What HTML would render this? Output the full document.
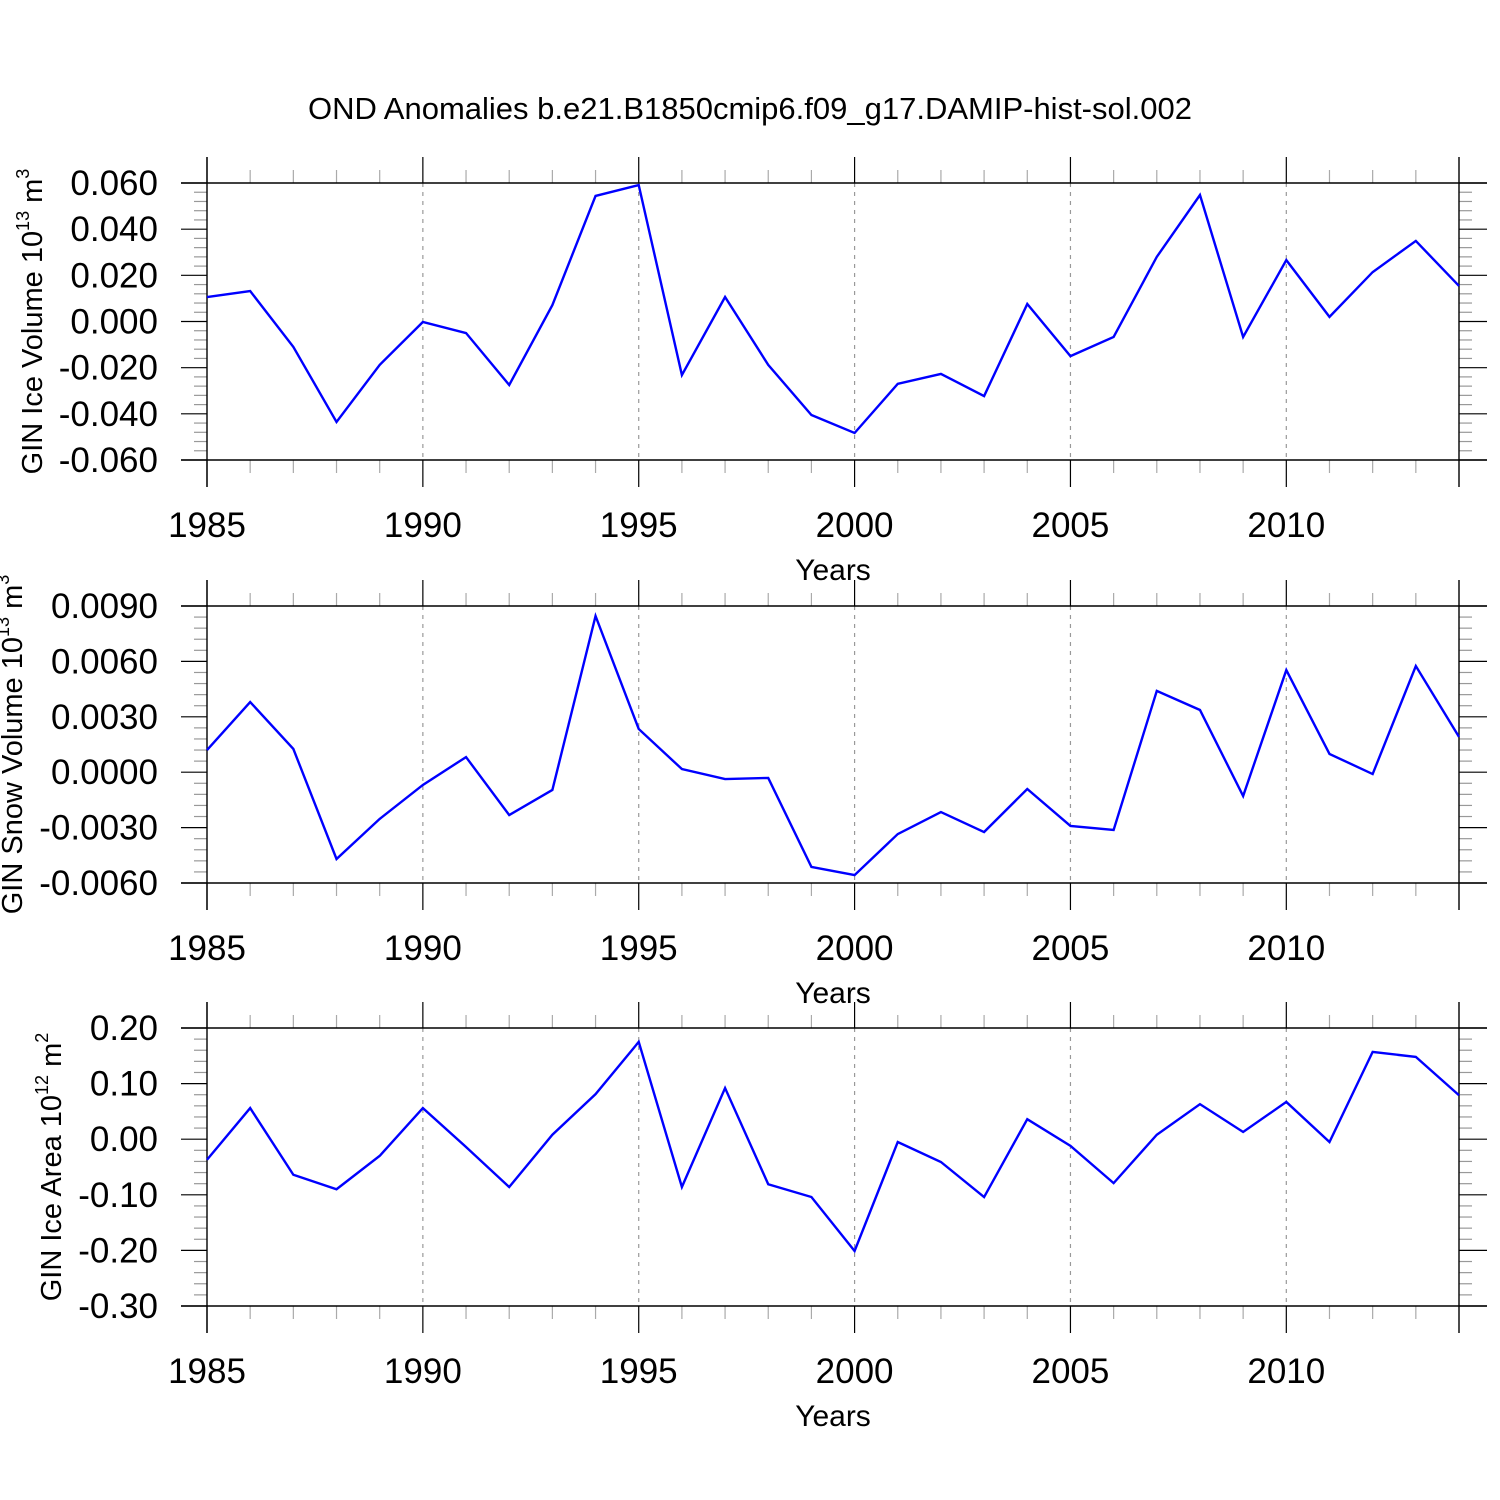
<!DOCTYPE html>
<html><head><meta charset="utf-8"><style>
html,body{margin:0;padding:0;background:#fff;}
svg{display:block;font-family:"Liberation Sans",Arial,sans-serif;}
</style></head><body>
<svg id="chart" width="1500" height="1500" viewBox="0 0 1500 1500" xmlns="http://www.w3.org/2000/svg">
<rect x="0" y="0" width="1500" height="1500" fill="#fff"/>
<text x="750" y="119" font-size="31" text-anchor="middle">OND Anomalies b.e21.B1850cmip6.f09_g17.DAMIP-hist-sol.002</text>
</svg>
<script>
const years = [1985,1986,1987,1988,1989,1990,1991,1992,1993,1994,1995,1996,1997,1998,1999,2000,2001,2002,2003,2004,2005,2006,2007,2008,2009,2010,2011,2012,2013,2014];
const iceVolume = [0.0106,0.0132,-0.011,-0.0435,-0.0188,-0.0002,-0.005,-0.0275,0.0071,0.0544,0.0591,-0.0232,0.0106,-0.0188,-0.0405,-0.0483,-0.027,-0.0227,-0.0323,0.0076,-0.015,-0.0067,0.028,0.0548,-0.0067,0.0266,0.002,0.0214,0.0349,0.0154];
const snowVolume = [0.0012,0.0038,0.00126,-0.0047,-0.00253,-0.00069,0.00082,-0.00232,-0.00096,0.00846,0.00234,0.00017,-0.00037,-0.00031,-0.00513,-0.00557,-0.00335,-0.00216,-0.00324,-0.00091,-0.00291,-0.00313,0.0044,0.00337,-0.00129,0.00553,0.00099,-0.0001,0.00575,0.00191];
const iceArea = [-0.037,0.056,-0.064,-0.09,-0.03,0.056,-0.014,-0.086,0.008,0.081,0.175,-0.086,0.092,-0.081,-0.104,-0.201,-0.005,-0.041,-0.104,0.036,-0.012,-0.079,0.008,0.063,0.013,0.067,-0.005,0.157,0.148,0.079];
const xTickYears = [1985,1990,1995,2000,2005,2010];
const iceVolTicks = [-0.06,-0.04,-0.02,0,0.02,0.04,0.06];
const snowTicks = [-0.006,-0.003,0,0.003,0.006,0.009];
const areaTicks = [-0.3,-0.2,-0.1,0,0.1,0.2];

const NS='http://www.w3.org/2000/svg';
const svg=document.getElementById('chart');
function mk(tag,attrs,parent){const e=document.createElementNS(NS,tag);for(const k in attrs)e.setAttribute(k,attrs[k]);(parent||svg).appendChild(e);return e;}
const X0=207,X1=1459;
function xs(yr){return X0+(yr-1985)/(2014-1985)*(X1-X0);}

function panel(name,top,bottom,ticks,dec,minorN,data,titleParts,titleX){
  const g=mk('g',{});
  
  
  const vmin=ticks[0],vmax=ticks[ticks.length-1];
  const ys=v=>bottom-(v-vmin)/(vmax-vmin)*(bottom-top);
  xTickYears.forEach(yr=>{ if(yr===1985)return;
    const l=mk('line',{x1:xs(yr),x2:xs(yr),y1:top,y2:bottom,stroke:'#999','stroke-width':1.2,'stroke-dasharray':'4,5'},g);
    
    
  });
  years.forEach(yr=>{ if(xTickYears.includes(yr)||yr===2014)return;
    mk('line',{x1:xs(yr),x2:xs(yr),y1:top-13,y2:top,stroke:'#aaa','stroke-width':1.2},g);
    mk('line',{x1:xs(yr),x2:xs(yr),y1:bottom,y2:bottom+13,stroke:'#aaa','stroke-width':1.2},g);
  });
  for(let i=0;i<ticks.length-1;i++){
    for(let j=1;j<=minorN;j++){
      const v=ticks[i]+(ticks[i+1]-ticks[i])*j/(minorN+1);
      mk('line',{x1:X0-13,x2:X0,y1:ys(v),y2:ys(v),stroke:'#999','stroke-width':1.2},g);
      mk('line',{x1:X1,x2:X1+13,y1:ys(v),y2:ys(v),stroke:'#999','stroke-width':1.2},g);
    }
  }
  ticks.forEach(v=>{
    mk('line',{x1:X0-26,x2:X0,y1:ys(v),y2:ys(v),stroke:'#000','stroke-width':1.2},g);
    mk('line',{x1:X1,x2:X1+28,y1:ys(v),y2:ys(v),stroke:'#000','stroke-width':1.2},g);
    const t=mk('text',{x:158,y:ys(v)+12,'font-size':35,'text-anchor':'end'},g);
    t.textContent=(v<0?'-':'')+Math.abs(v).toFixed(dec);
    
    
  });
  xTickYears.forEach(yr=>{
    mk('line',{x1:xs(yr),x2:xs(yr),y1:top-26,y2:top,stroke:'#000','stroke-width':1.2},g);
    mk('line',{x1:xs(yr),x2:xs(yr),y1:bottom,y2:bottom+27,stroke:'#000','stroke-width':1.2},g);
    const t=mk('text',{x:xs(yr),y:bottom+77,'font-size':35,'text-anchor':'middle'},g);
    t.textContent=String(yr);
    
    
  });
  mk('line',{x1:X0,x2:X0,y1:top-26,y2:bottom+27,stroke:'#000','stroke-width':1.4},g);
  mk('line',{x1:X1,x2:X1,y1:top-26,y2:bottom+27,stroke:'#000','stroke-width':1.4},g);
  mk('line',{x1:X0-26,x2:X1+28,y1:top,y2:top,stroke:'#000','stroke-width':1.4},g);
  mk('line',{x1:X0-26,x2:X1+28,y1:bottom,y2:bottom,stroke:'#000','stroke-width':1.4},g);
  const p=mk('polyline',{points:data.map((v,i)=>xs(years[i])+','+ys(v)).join(' '),fill:'none',stroke:'#0000ff','stroke-width':2.4,'stroke-linejoin':'miter'},g);
  
  
  const xt=mk('text',{x:833,y:bottom+120,'font-size':30,'text-anchor':'middle'},g);
  xt.textContent='Years';
  
  
  const cy=(top+bottom)/2;
  const yt=mk('text',{x:titleX,y:cy,'font-size':29,'text-anchor':'middle',transform:`rotate(-90 ${titleX} ${cy})`},g);
  
  
  const s1=mk('tspan',{},yt);s1.textContent=titleParts[0];
  const s2=mk('tspan',{'font-size':18,dy:-13},yt);s2.textContent=titleParts[1];
  const s3=mk('tspan',{dy:13},yt);s3.textContent=' '+titleParts[2];
  const s4=mk('tspan',{'font-size':18,dy:-13},yt);s4.textContent=titleParts[3];
}
panel('ice-volume-panel',183,460,iceVolTicks,3,4,iceVolume,['GIN Ice Volume 10','13','m','3'],42);
panel('snow-volume-panel',606,883,snowTicks,4,4,snowVolume,['GIN Snow Volume 10','13','m','3'],22);
panel('ice-area-panel',1028,1306,areaTicks,2,4,iceArea,['GIN Ice Area 10','12','m','2'],61);
</script>
</body></html>
